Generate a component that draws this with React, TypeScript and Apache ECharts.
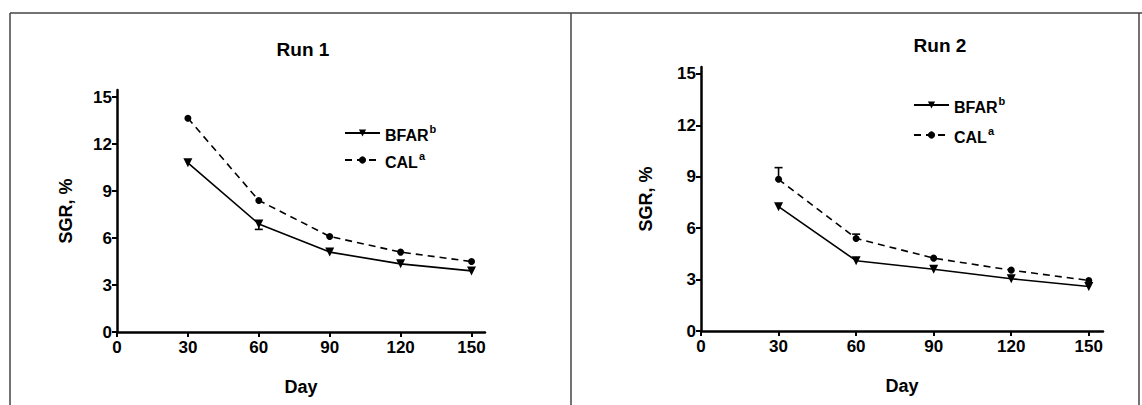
import React, { useEffect, useRef } from "react";
import * as echarts from "echarts";

const days = [30, 60, 90, 120, 150];
const run1Bfar = [10.8, 6.9, 5.1, 4.35, 3.9];
const run1Cal = [13.65, 8.4, 6.1, 5.1, 4.5];
const run2Bfar = [7.25, 4.1, 3.6, 3.05, 2.6];
const run2Cal = [8.85, 5.4, 4.25, 3.55, 2.95];
// [day, mean, error-bar end]
const run1Err = [[60, 6.9, 6.55]];
const run2Err = [[30, 8.85, 9.53], [60, 5.4, 5.65]];
const yTicks = [0, 3, 6, 9, 12, 15];
const xTicks = [0, 30, 60, 90, 120, 150];

const FONT = "'Liberation Sans', Arial, sans-serif";

export default function App() {
  const ref = useRef<HTMLDivElement>(null);
  useEffect(() => {
    if (!ref.current) return;
    const chart = echarts.init(ref.current, null, { renderer: "svg" });
    const pair = (xs: number[], ys: number[]) => xs.map((x, i) => [x, ys[i]]);

    const xAxisBase = (gridIndex: number, max: number) => ({
      type: "value" as const,
      gridIndex,
      min: 0,
      max,
      name: "Day",
      nameLocation: "middle" as const,
      nameGap: 46,
      nameTextStyle: { fontFamily: FONT, fontWeight: "bold", fontSize: 18, color: "#000" },
      axisLine: { lineStyle: { color: "#000", width: 2.5 } },
      axisTick: { show: true, length: 5, lineStyle: { color: "#000", width: 2 }, customValues: xTicks },
      axisLabel: { customValues: xTicks, fontFamily: FONT, fontWeight: "bold", fontSize: 17, color: "#000", margin: 7 },
      splitLine: { show: false },
    });
    const yAxisBase = (gridIndex: number, max: number, nameGap: number) => ({
      type: "value" as const,
      gridIndex,
      min: 0,
      max,
      name: "SGR, %",
      nameLocation: "middle" as const,
      nameGap,
      nameTextStyle: { fontFamily: FONT, fontWeight: "bold", fontSize: 18, color: "#000" },
      axisLine: { show: true, lineStyle: { color: "#000", width: 2.5 } },
      axisTick: { show: true, length: 5, lineStyle: { color: "#000", width: 2 }, customValues: yTicks },
      axisLabel: { customValues: yTicks, fontFamily: FONT, fontWeight: "bold", fontSize: 17, color: "#000", margin: 5 },
      splitLine: { show: false },
    });

    const lineSeries = (name: string, data: number[], idx: number, dashed: boolean) => ({
      type: "line" as const,
      name,
      xAxisIndex: idx,
      yAxisIndex: idx,
      data: pair(days, data),
      symbol: dashed ? "circle" : "triangle",
      symbolRotate: dashed ? 0 : 180,
      symbolSize: dashed ? 7 : 9,
      showAllSymbol: true,
      itemStyle: { color: "#000" },
      lineStyle: { color: "#000", width: 1.6, type: dashed ? [7, 5] : "solid" },
      z: 3,
    });

    const errSeries = (data: number[][], idx: number) => ({
      type: "custom" as const,
      xAxisIndex: idx,
      yAxisIndex: idx,
      data,
      encode: { x: 0, y: [1, 2] },
      silent: true,
      z: 4,
      renderItem: (_p: any, api: any) => {
        const a = api.coord([api.value(0), api.value(1)]);
        const b = api.coord([api.value(0), api.value(2)]);
        const st = { stroke: "#000", lineWidth: 1.6 };
        return {
          type: "group",
          children: [
            { type: "line", shape: { x1: a[0], y1: a[1], x2: b[0], y2: b[1] }, style: st },
            { type: "line", shape: { x1: b[0] - 4, y1: b[1], x2: b[0] + 4, y2: b[1] }, style: st },
          ],
        };
      },
    });

    const legendFmt = (name: string) => (name === "BFAR" ? "{n|BFAR}{s|b}" : "{n|CAL}{s|a}");
    const legendText = {
      fontFamily: FONT,
      color: "#000",
      rich: {
        n: { fontFamily: FONT, fontWeight: "bold", fontSize: 16, color: "#000", lineHeight: 20, verticalAlign: "bottom" },
        s: { fontFamily: FONT, fontWeight: "bold", fontSize: 11, color: "#000", lineHeight: 20, verticalAlign: "top", padding: [0, 0, 0, 1] },
      },
    };

    chart.setOption({
      animation: false,
      backgroundColor: "#fff",
      title: [
        { text: "Run 1", left: 298, top: 35, textAlign: "center", textStyle: { fontFamily: FONT, fontWeight: "bold", fontSize: 19, color: "#000" } },
        { text: "Run 2", left: 935, top: 31, textAlign: "center", textStyle: { fontFamily: FONT, fontWeight: "bold", fontSize: 19, color: "#000" } },
      ],
      grid: [
        { left: 117, top: 90, width: 368, height: 242 },
        { left: 701, top: 67, width: 402, height: 264 },
      ],
      xAxis: [xAxisBase(0, 155.7), xAxisBase(1, 155.5)],
      yAxis: [yAxisBase(0, 15.45, 42), yAxisBase(1, 15.4, 46)],
      legend: [
        {
          left: 344, top: 123, padding: 0, orient: "vertical", itemGap: 7, itemWidth: 35, itemHeight: 9, itemTextGap: 6,
          data: ["BFAR", "CAL"], formatter: legendFmt, textStyle: legendText, selectedMode: false,
        },
        {
          left: 913, top: 95, padding: 0, orient: "vertical", itemGap: 10, itemWidth: 35, itemHeight: 9, itemTextGap: 6,
          data: ["BFAR", "CAL"], formatter: legendFmt, textStyle: legendText, selectedMode: false,
        },
      ],
      series: [
        lineSeries("BFAR", run1Bfar, 0, false),
        lineSeries("CAL", run1Cal, 0, true),
        lineSeries("BFAR", run2Bfar, 1, false),
        lineSeries("CAL", run2Cal, 1, true),
        errSeries(run1Err, 0),
        errSeries(run2Err, 1),
      ],
      graphic: [
        { type: "line", shape: { x1: 10, y1: 13, x2: 1142, y2: 13 }, style: { stroke: "#444", lineWidth: 1.5 } },
        { type: "line", shape: { x1: 10, y1: 13, x2: 10, y2: 405 }, style: { stroke: "#444", lineWidth: 1.5 } },
        { type: "line", shape: { x1: 571, y1: 13, x2: 571, y2: 405 }, style: { stroke: "#444", lineWidth: 1.5 } },
        { type: "line", shape: { x1: 1139, y1: 13, x2: 1139, y2: 405 }, style: { stroke: "#444", lineWidth: 1.5 } },
      ],
    });
    return () => chart.dispose();
  }, []);
  return <div ref={ref} style={{ position: "absolute", left: 0, top: 0, width: 1142, height: 405 }} />;
}
